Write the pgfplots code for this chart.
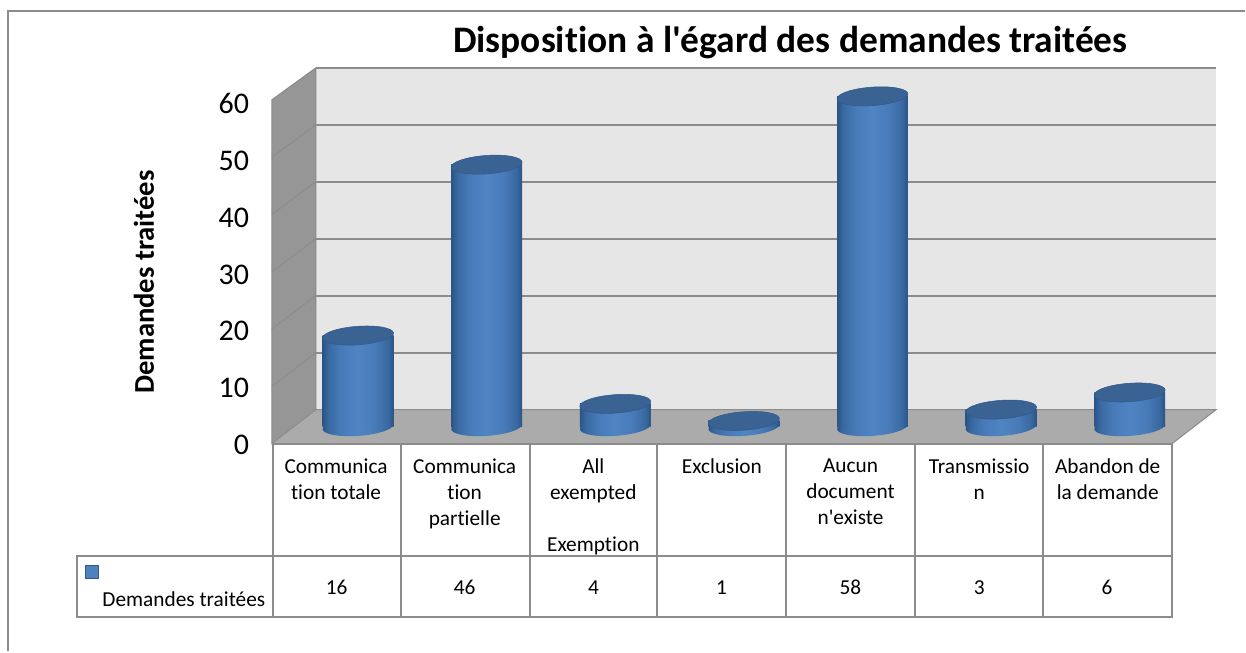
\documentclass[border=0pt]{standalone}
\usepackage{pgfplots}
\pgfplotsset{compat=1.18}
\usepackage{pgfplotstable}
\usepackage{fontspec}
\setmainfont{Carlito}[Ligatures={NoCommon,TeXOff}]
\definecolor{wallc}{HTML}{E6E6E6}
\definecolor{sidec}{HTML}{969696}
\definecolor{floorc}{HTML}{ABABAB}
\definecolor{gridc}{HTML}{8C8C8C}
\definecolor{topc}{HTML}{3A6394}
\definecolor{edgec}{HTML}{31598A}
\pgfdeclarehorizontalshading{cyl}{100bp}{
  rgb(0bp)=(0.17,0.33,0.52);
  rgb(25bp)=(0.17,0.33,0.52);
  rgb(29bp)=(0.22,0.41,0.63);
  rgb(38bp)=(0.28,0.48,0.72);
  rgb(50bp)=(0.31,0.52,0.77);
  rgb(62bp)=(0.28,0.48,0.72);
  rgb(71bp)=(0.22,0.41,0.63);
  rgb(75bp)=(0.17,0.33,0.52);
  rgb(100bp)=(0.17,0.33,0.52)}
\pgfdeclareplotmark{cyltop}{%
  \pgfpathellipse{\pgfpointorigin}{\pgfqpoint{26.6pt}{1.9pt}}{\pgfqpoint{-0.5pt}{6.9pt}}%
  \pgfusepathqfillstroke}
\pgfdeclareplotmark{cylbase}{%
  \pgfpathellipse{\pgfpointorigin}{\pgfqpoint{26.6pt}{1.9pt}}{\pgfqpoint{-0.5pt}{6.9pt}}%
  \pgfshadepath{cyl}{0}%
  \pgfusepath{discard}}
\pgfplotstableread{
i v zero
0 16 0
1 46 0
2 4 0
3 1 0
4 58 0
5 3 0
6 6 0
}\data
\pgfplotsset{cylbar/.style={ybar,bar width=53.2pt,bar shift=0pt,draw=none,shade,shading=cyl,forget plot}}
\begin{document}
\begin{tikzpicture}
\begin{scope}[x=0.75pt,y=-0.75pt]
  \path (0,0) rectangle (1246,652);
  \draw[gridc,line width=1.5pt] (8.5,652) -- (8.5,11.5) -- (1246,11.5);
  \fill[wallc] (316,68) rectangle (1217,410);
  \fill[sidec] (272,100) -- (316,68) -- (316,410) -- (272,444) -- cycle;
  \fill[floorc] (272,444) -- (316,410) -- (1217,410) -- (1173,444) -- cycle;
  \draw[gridc,line width=1.5pt] (316,68) -- (1217,68);
  \foreach \yb in {125,182,239,296,353}{\draw[gridc,line width=1.5pt] (316,\yb) -- (1217,\yb);}
  \foreach \yb/\yf in {125/157.3,182/214.7,239/272,296/329.3,353/386.7}{\draw[gridc,line width=0.8pt] (272,\yf) -- (316,\yb);}
  \draw[gridc,line width=0.8pt] (272,100) -- (316,68) -- (316,410) -- (272,444) -- cycle;
  \draw[gridc,line width=0.8pt] (316,410) -- (1217,410) -- (1173,444);
  % table
  \draw[gridc,line width=1.5pt] (272,444) -- (1173,444) -- (1173,617) -- (77,617) -- (77,556) -- (1173,556);
  \foreach \xx in {273,401,530,658,787,916,1044}{\draw[gridc,line width=1.5pt] (\xx,444) -- (\xx,617);}
  \fill[fill={rgb,255:red,79;green,129;blue,189},draw=edgec] (85,566) rectangle (98,579);
  \node[font=\fontsize{16}{19}\selectfont,anchor=center] at (184,600) {Demandes traitées};
  \foreach \xx/\vv in {337/16,465/46,594/4,722/1,851/58,980/3,1108/6}{
    \node[font=\fontsize{16}{19}\selectfont,anchor=center] at (\xx,588) {\vv};}
\end{scope}
% frame axis: front edge, tick labels, title and labels
\begin{axis}[
  at={(204pt,-333pt)},anchor=south west,
  scale only axis,width=675.75pt,height=256pt,
  xmin=-0.5,xmax=6.5,ymin=0,ymax=60,
  axis line style={draw=none},
  major tick length=0pt,
  ytick={0,10,20,30,40,50,60},
  xtick={0,1,2,3,4,5,6},
  xticklabels={Communica\\tion totale,Communica\\tion\\partielle,All\\exempted\\ \\Exemption,Exclusion,Aucun\\document\\n'existe,Transmissio\\n,Abandon de\\la demande},
  xticklabel style={align=center,anchor=north,font=\fontsize{16}{19.5}\selectfont,yshift=-8pt},
  yticklabel style={anchor=east,font=\fontsize{22.5}{26}\selectfont,xshift=-13.5pt,yshift=-1pt},
  /pgf/number format/assume math mode=true,
  title={Disposition à l'égard des demandes traitées},
  title style={at={(axis description cs:0.576,1.1515)},anchor=center,font=\fontsize{28.1}{32}\bfseries\selectfont},
  ylabel={Demandes traitées},
  every axis y label/.style={at={(axis description cs:-0.142,0.474)},rotate=90,anchor=center,font=\fontsize{21.5}{25}\bfseries\selectfont},
]
\end{axis}
% cylinder bases
\begin{axis}[
  at={(220.5pt,-320.25pt)},anchor=south west,
  scale only axis,width=675.75pt,height=256.5pt,
  xmin=-0.5,xmax=6.5,ymin=0,ymax=60,
  hide axis,clip=false,
]
\addplot[only marks,mark=cylbase,mark options={draw=none}] table[x=i,y=zero] {\data};
\end{axis}
% cylinder bodies and tops
\begin{axis}[
  at={(220.5pt,-320.25pt)},anchor=south west,
  scale only axis,width=675.75pt,height=256.5pt,
  xmin=-0.5,xmax=6.5,ymin=0,ymax=60,
  hide axis,clip=false,
]
\addplot[cylbar] coordinates {(0,16)};
\addplot[cylbar] coordinates {(1,46)};
\addplot[cylbar] coordinates {(2,4)};
\addplot[cylbar] coordinates {(3,1)};
\addplot[cylbar] coordinates {(4,58)};
\addplot[cylbar] coordinates {(5,3)};
\addplot[cylbar] coordinates {(6,6)};
\addplot[only marks,mark=cyltop,mark options={fill=topc,draw=edgec,line width=0.4pt}] table[x=i,y=v] {\data};
\end{axis}
\end{tikzpicture}
\end{document}
